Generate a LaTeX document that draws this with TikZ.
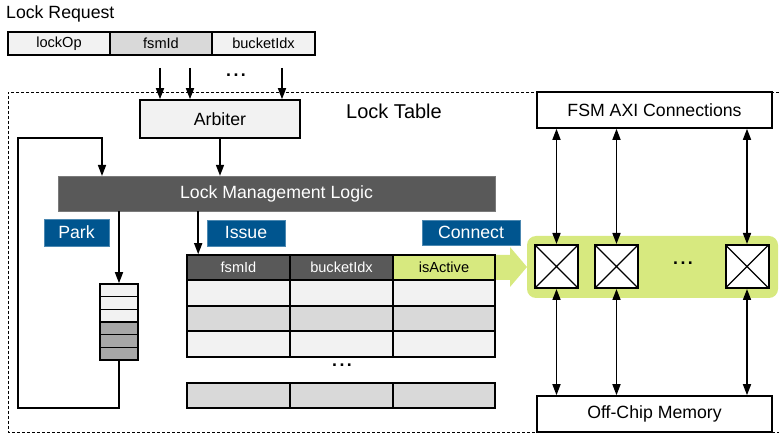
\documentclass[tikz,border=0pt]{standalone}
\usepackage{fontspec}
\setmainfont{Liberation Sans}
\usetikzlibrary{arrows.meta,calc}

\definecolor{cellLight}{HTML}{F2F2F2}
\definecolor{cellMid}{HTML}{D9D9D9}
\definecolor{cellDark}{HTML}{A6A6A6}
\definecolor{logicGray}{HTML}{595959}
\definecolor{tagBlue}{HTML}{00558F}
\definecolor{activeGreen}{HTML}{D7E97F}

\tikzset{
  big/.style={font=\fontsize{17.7}{20}\selectfont},
  small/.style={font=\fontsize{14.6}{17}\selectfont},
  cell/.style={draw=black, line width=1.6, inner sep=0, small},
  block/.style={draw=black, line width=1.6, inner sep=0, big},
  tag/.style={fill=tagBlue, draw=tagBlue!70, line width=0.4, text=white, inner sep=0, big},
  xbar/.style={draw=black, fill=white, line width=2, minimum width=43, minimum height=43, inner sep=0,
    path picture={\draw[line width=1.1] (path picture bounding box.south west) -- (path picture bounding box.north east)
      (path picture bounding box.north west) -- (path picture bounding box.south east);}},
  arr/.style={line width=1.6, -{Triangle[length=11,width=8]}},
  darr/.style={line width=1.6, {Triangle[length=11,width=8]}-{Triangle[length=11,width=8]}},
  frame/.style={line width=0.9, dash pattern=on 3 off 2},
  dots/.style={font=\fontsize{17.7}{20}\selectfont\bfseries, inner sep=0},
}
\newcommand{\spreaddots}{.\kern2.5pt.\kern2.5pt.}

\begin{document}
\begin{tikzpicture}[x=1pt, y=-1pt]
\useasboundingbox (0,0) rectangle (779,435);

% dashed outline of the lock table region
\draw[frame] (779,92) -- (8,92) -- (8,432) -- (779,432);

% incoming request fields
\node[big, anchor=west, inner sep=0] (reqlabel) at (6,14) {Lock Request};
\node[cell, fill=cellLight, minimum width=102, minimum height=23] (lockop) at (59,43.5) {lockOp};
\node[cell, fill=cellMid, minimum width=102, minimum height=23] (fsmid) at (161,43.5) {fsmId};
\node[cell, fill=cellLight, minimum width=103, minimum height=23] (bidx) at (263.5,43.5) {bucketIdx};

% arbiter and its inputs
\node[block, fill=cellLight, minimum width=160, minimum height=38] (arb) at (220,119) {Arbiter};
\coordinate (in1) at (160,68);
\coordinate (in2) at (190,68);
\coordinate (in3) at (282,68);
\draw[arr] (in1) -- (in1 |- arb.north);
\draw[arr] (in2) -- (in2 |- arb.north);
\draw[arr] (in3) -- (in3 |- arb.north);
\node[dots] (indots) at (236,75) {\spreaddots};

\node[big, anchor=west, inner sep=0, font=\fontsize{20}{22}\selectfont] (ltlabel) at (346,111) {Lock Table};

% lock management logic
\node[fill=logicGray, draw=logicGray!80, text=white, big, minimum width=437, minimum height=35, inner sep=0] (lml) at (276.5,193.5) {Lock Management Logic};
\draw[arr] (arb.south) -- (arb.south |- lml.north);

% action tags
\node[tag, minimum width=65, minimum height=27] (park) at (76.5,232.5) {Park};
\node[tag, minimum width=78, minimum height=26] (issue) at (246,233) {Issue};
\node[tag, minimum width=98, minimum height=25] (connect) at (471,232.5) {Connect};

% parking queue
\foreach \i/\c in {1/cellLight,2/cellLight,3/cellLight,4/cellDark,5/cellDark,6/cellDark}{
  \node[cell, fill=\c, minimum width=38, minimum height=12.67] (q\i) at (119,{284+(\i-0.5)*12.67}) {};
}
\draw[arr] (lml.south -| q1.north) -- (q1.north);
\coordinate (loopbl) at (18,408);
\coordinate (looptl) at (18,138);
\coordinate (loopin) at (102,176);
\draw[arr] (q6.south) |- (loopbl) -- (looptl) -| (loopin);

% arrow from the isActive column into the crossbar
\fill[activeGreen] (393,255) -- (510,255) -- (510,247) -- (527,267) -- (510,287) -- (510,280) -- (393,280) -- cycle;

% lock table entries
\node[cell, fill=logicGray, text=white, minimum width=103, minimum height=25] (th1) at (238.5,267.5) {fsmId};
\node[cell, fill=logicGray, text=white, minimum width=103, minimum height=25] (th2) at (341.5,267.5) {bucketIdx};
\node[cell, fill=activeGreen, minimum width=102, minimum height=25] (th3) at (444,267.5) {isActive};
\foreach \r/\y/\c in {1/293/cellLight,2/318.5/cellMid,3/344/cellLight,4/395.5/cellMid}{
  \node[cell, fill=\c, minimum width=103, minimum height=25.5] (r\r a) at (238.5,\y) {};
  \node[cell, fill=\c, minimum width=103, minimum height=25.5] (r\r b) at (341.5,\y) {};
  \node[cell, fill=\c, minimum width=102, minimum height=25.5] (r\r c) at (444,\y) {};
}
\node[dots] (rowdots) at (342,365) {\spreaddots};
\draw[arr] ([xshift=12]lml.south -| th1.west) -- ([xshift=12]th1.north west);

% crossbar
\node[fill=activeGreen, rounded corners=9, minimum width=251, minimum height=62, inner sep=0] (xbarbg) at (652.5,267) {};
\node[xbar] (x1) at (556.5,266.5) {};
\node[xbar] (x2) at (616.5,266.5) {};
\node[xbar] (x3) at (747,266.5) {};
\node[dots] (xdots) at (683,263) {\spreaddots};

% AXI side and memory side
\node[block, fill=white, minimum width=235, minimum height=36] (fsm) at (654.5,110) {FSM AXI Connections};
\node[block, fill=white, minimum width=235, minimum height=36] (mem) at (654.5,414) {Off-Chip Memory};
\foreach \k in {1,2,3}{
  \draw[darr] (x\k.north) -- (x\k.north |- fsm.south);
  \draw[darr] (x\k.south) -- (x\k.south |- mem.north);
}
\end{tikzpicture}
\end{document}
